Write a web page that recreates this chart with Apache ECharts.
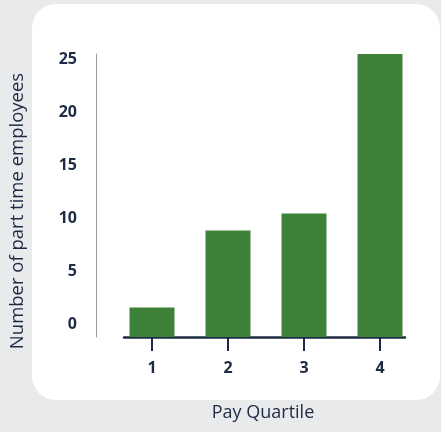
<!DOCTYPE html>
<html>
<head>
<meta charset="utf-8">
<script src="https://cdn.jsdelivr.net/npm/echarts@6/dist/echarts.min.js"></script>
<style>
  html, body { margin: 0; padding: 0; background: #e9eaec; }
  #chart { width: 441px; height: 432px; }
</style>
</head>
<body>
<div id="chart"></div>
<script>
// data
var quartiles = ["1", "2", "3", "4"];
var partTime = [2.6, 9.4, 10.9, 25];
var yTicks = [0, 5, 10, 15, 20, 25];

var navy = "#1e2b45";
var green = "#3e8239";

var chart = echarts.init(document.getElementById("chart"), null, { renderer: "canvas" });

var option = {
  backgroundColor: "#e9eaec",
  animation: false,
  grid: [
    // grid 0: axis lines (x line is shorter than the band span in the source)
    { left: 124, right: 36, top: 54, bottom: 95, containLabel: false },
    // grid 1: the bars and the category ticks/labels
    { left: 114, right: 23, top: 54, bottom: 95, containLabel: false }
  ],
  graphic: [
    {
      type: "rect",
      z: -10,
      shape: { x: 32, y: 4, width: 408, height: 396, r: 24 },
      style: { fill: "#ffffff" }
    },
    {
      type: "text",
      x: 18,
      y: 211,
      rotation: Math.PI / 2,
      style: {
        text: "Number of part time employees",
        fill: navy,
        font: "18.5px 'Open Sans'",
        align: "center",
        verticalAlign: "middle"
      }
    },
    {
      type: "text",
      x: 263,
      y: 413,
      style: {
        text: "Pay Quartile",
        fill: navy,
        font: "18px 'Open Sans'",
        align: "center",
        verticalAlign: "middle"
      }
    }
  ],
  xAxis: [
    {
      type: "value",
      gridIndex: 0,
      min: 0,
      max: 1,
      splitLine: { show: false },
      axisLine: { show: true, onZero: false, lineStyle: { color: navy, width: 2.5 } },
      axisTick: { show: false },
      axisLabel: { show: false }
    },
    {
      type: "category",
      gridIndex: 1,
      data: quartiles,
      axisLine: { show: false, onZero: false },
      axisTick: { show: true, alignWithLabel: true, length: 14, lineStyle: { color: navy, width: 2 } },
      axisLabel: {
        margin: 23,
        color: navy,
        fontFamily: "Open Sans",
        fontWeight: "bold",
        fontSize: 16
      }
    }
  ],
  yAxis: [
    {
      // printed labels (shifted against the bars in the source picture)
      type: "value",
      gridIndex: 0,
      min: -1.226,
      max: 25.472,
      position: "left",
      offset: 28,
      splitLine: { show: false },
      axisLine: { show: true, onZero: false, lineStyle: { color: "#9a9a9a", width: 1 } },
      axisTick: { show: false },
      axisLabel: {
        customValues: yTicks,
        margin: 19,
        color: navy,
        fontFamily: "Open Sans",
        fontWeight: "bold",
        fontSize: 16
      }
    },
    {
      // scale the bars use
      type: "value",
      gridIndex: 1,
      min: 0,
      max: 25,
      show: false,
      splitLine: { show: false }
    }
  ],
  series: [{
    type: "bar",
    xAxisIndex: 1,
    yAxisIndex: 1,
    data: partTime,
    barWidth: 45,
    itemStyle: { color: green }
  }]
};

chart.setOption(option);
</script>
</body>
</html>
